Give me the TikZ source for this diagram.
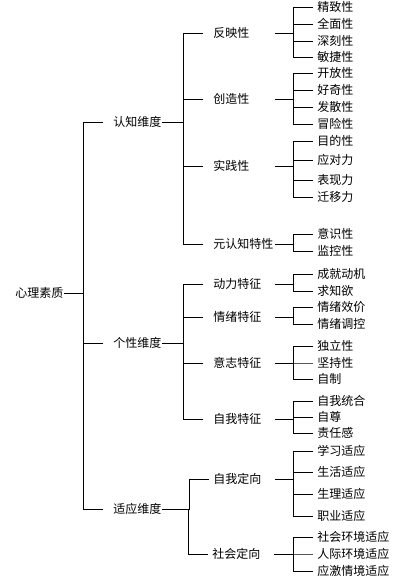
\documentclass[tikz,border=0pt]{standalone}
\usepackage{fontspec}
\setmainfont{Noto Sans CJK SC}

\begin{document}
\begin{tikzpicture}[x=1pt, y=-1pt, line width=0.8pt,
    every node/.style={font=\fontsize{12pt}{14pt}\selectfont, anchor=west, inner xsep=0pt, inner ysep=1pt},
    trait/.style={text width=61pt, align=left}]
    \useasboundingbox (0,0) rectangle (408,579);

    % Root
    \node (xl) at (15,293) {心理素质};

    % Dimensions
    \node (rz) at (113,122) {认知维度};
    \node (gx) at (113,343) {个性维度};
    \node (sy) at (113,509) {适应维度};
    \foreach \n in {rz,gx,sy}
        \draw ([xshift=-10pt]\n.west) -- ++(-20,0) |- (xl.east);

    % Traits
    \node[trait] (fy) at (213,33) {反映性};
    \node[trait] (cz) at (213,99) {创造性};
    \node[trait] (sj) at (213,166) {实践性};
    \node[trait] (yrz) at (213,244) {元认知特性};
    \node[trait] (dl) at (213,284) {动力特征};
    \node[trait] (qx) at (213,317) {情绪特征};
    \node[trait] (yz) at (213,363) {意志特征};
    \node[trait] (zw) at (213,419) {自我特征};
    \node[trait] (zd) at (213,479) {自我定向};
    \node[trait] (sd) at (212,554) {社会定向};
    \foreach \n in {fy,cz,sj,yrz}
        \draw ([xshift=-10pt]\n.west) -- ++(-20,0) |- (rz.east);
    \foreach \n in {dl,qx,yz,zw}
        \draw ([xshift=-10pt]\n.west) -- ++(-20,0) |- (gx.east);
    \foreach \n in {zd,sd}
        \draw ([xshift=-4pt]\n.west) -- ++(-20,0) |- (sy.east);

    % Leaves
    \foreach \p/\l in {fy/{7/精致性,24/全面性,41/深刻性,57/敏捷性},
                       cz/{73/开放性,90/好奇性,107/发散性,124/冒险性},
                       sj/{141/目的性,160/应对力,180/表现力,197/迁移力},
                       yrz/{234/意识性,251/监控性},
                       dl/{274/成就动机,291/求知欲},
                       qx/{307/情绪效价,324/情绪调控},
                       yz/{346/独立性,363/坚持性,379/自制},
                       zw/{401/自我统合,417/自尊,433/责任感},
                       zd/{451/学习适应,472/生活适应,494/生理适应,516/职业适应},
                       sd/{537/社会环境适应,554/人际环境适应,571/应激情境适应}}
        \foreach \y/\t [count=\i] in \l {
            \node (\p\i) at (317,\y) {\t};
            \draw ([xshift=-4pt]\p\i.west) -- ++(-20,0) |- (\p.east);
        }
\end{tikzpicture}
\end{document}
